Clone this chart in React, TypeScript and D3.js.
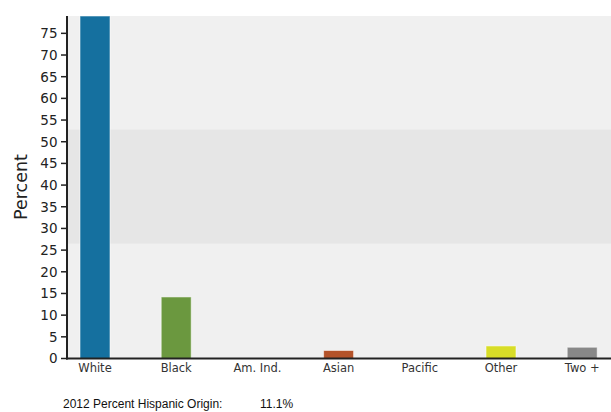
import React from 'react';
import * as d3 from 'd3';

// race shares, percent of population
const categories = ['White', 'Black', 'Am. Ind.', 'Asian', 'Pacific', 'Other', 'Two +'];
const values = [79, 14.2, 0, 1.85, 0, 2.9, 2.6];
const barColors = ['#15709f', '#6b983f', '#a0522d', '#b4532a', '#7a5ea8', '#d8dd27', '#888888'];
const yTicks = [0, 5, 10, 15, 20, 25, 30, 35, 40, 45, 50, 55, 60, 65, 70, 75];
const shadedBand = [26.5, 52.8];
const footLabel = '2012 Percent Hispanic Origin:';
const footValue = '11.1%';

const W = 611;
const H = 412;
const margin = { top: 16, right: 0, bottom: 53.5, left: 67 };

export default function App() {
  const innerBottom = H - margin.bottom;

  const y = d3.scaleLinear().domain([0, 79]).range([innerBottom, margin.top]);
  const x = d3.scalePoint<string>().domain(categories).range([95, 582.2]);
  const barW = 30;

  return (
    <svg width={W} height={H} style={{ position: 'absolute', left: 0, top: 0, background: '#fff' }}>
      {/* plot background with the shaded band */}
      <rect x={margin.left} y={margin.top} width={W - margin.left} height={innerBottom - margin.top} fill="#f0f0f0" />
      <rect
        x={margin.left}
        y={y(shadedBand[1])}
        width={W - margin.left}
        height={y(shadedBand[0]) - y(shadedBand[1])}
        fill="#e6e6e6"
      />

      {/* bars */}
      {categories.map((c, i) =>
        values[i] > 0 ? (
          <rect
            key={c}
            x={x(c)! - barW / 2}
            y={y(values[i])}
            width={barW}
            height={y(0) - y(values[i])}
            fill={barColors[i]}
            stroke="rgba(255,255,255,0.55)"
            strokeWidth={1}
          />
        ) : null
      )}

      {/* y axis */}
      <line x1={margin.left} x2={margin.left} y1={margin.top} y2={innerBottom + 1} stroke="#222" strokeWidth={2} />
      {yTicks.map(t => (
        <g key={t} transform={`translate(0,${y(t)})`}>
          <line x1={61} x2={margin.left} stroke="#222" strokeWidth={1.5} />
          <text
            x={57.5}
            dy="0.36em"
            textAnchor="end"
            fontFamily="DejaVu Sans, Verdana, sans-serif"
            fontSize={13.5}
            fill="#222"
          >
            {t}
          </text>
        </g>
      ))}
      <text
        transform={`translate(27,187) rotate(-90)`}
        textAnchor="middle"
        fontFamily="DejaVu Sans, Verdana, sans-serif"
        fontSize={17.5}
        fill="#222"
      >
        Percent
      </text>

      {/* x axis */}
      <line x1={margin.left - 1} x2={W} y1={innerBottom} y2={innerBottom} stroke="#222" strokeWidth={2} />
      {categories.map(c => (
        <text
          key={c}
          x={x(c)!}
          y={371.5}
          textAnchor="middle"
          fontFamily="DejaVu Sans, Verdana, sans-serif"
          fontSize={11.5}
          fill="#333"
        >
          {c}
        </text>
      ))}

      {/* footnote */}
      <text x={63} y={408} fontFamily="Liberation Sans, Arial, sans-serif" fontSize={12} fill="#111">
        {footLabel}
      </text>
      <text x={260} y={408} fontFamily="Liberation Sans, Arial, sans-serif" fontSize={12} fill="#111">
        {footValue}
      </text>
    </svg>
  );
}
